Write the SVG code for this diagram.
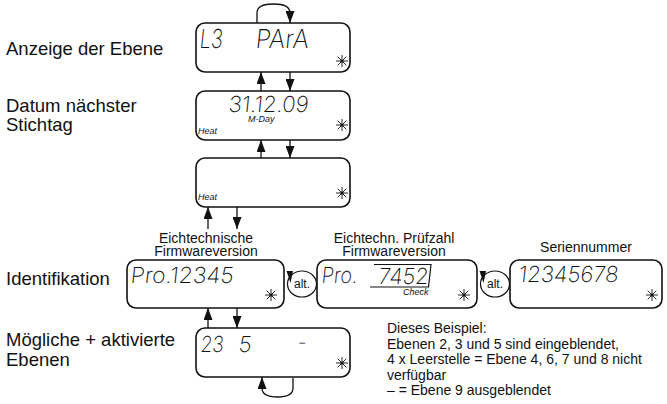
<svg xmlns="http://www.w3.org/2000/svg" width="667" height="404" viewBox="0 0 667 404">
<style>
.lbl{font-family:"Liberation Sans",Arial,sans-serif;font-size:18.5px;fill:#111}
.hdr{font-family:"Liberation Sans",Arial,sans-serif;font-size:14px;fill:#111;text-anchor:middle}
.note{font-family:"Liberation Sans",Arial,sans-serif;font-size:14px;fill:#111}
.box{fill:#fff;stroke:#111;stroke-width:1.6}
.seg{font-family:Inter,"DejaVu Sans",sans-serif;font-weight:200;fill:#111}
.sm{font-family:"Liberation Sans Narrow","Liberation Sans",sans-serif;font-style:italic;font-size:9px;fill:#111}
.conn{stroke:#111;stroke-width:1.3;fill:none}
.fr{stroke:#111;stroke-width:1.2;fill:none}
.alt{font-family:"Liberation Sans",Arial,sans-serif;font-size:12px;fill:#111}
</style>
<defs>
<marker id="ah" markerUnits="userSpaceOnUse" markerWidth="12" markerHeight="9" refX="12" refY="4.5" orient="auto">
<path d="M0,0 L12,4.5 L0,9 z" fill="#111"/>
</marker>
<g id="star">
<path d="M-6,0H6M0,-6V6M-4.3,-4.3L4.3,4.3M-4.3,4.3L4.3,-4.3" stroke="#111" stroke-width="0.9"/>
<circle r="1.6" fill="#111"/>
</g>
</defs>

<g id="labels">
<text class="lbl" x="6" y="55">Anzeige der Ebene</text>
<text class="lbl" x="6" y="112">Datum nächster</text>
<text class="lbl" x="6" y="131">Stichtag</text>
<text class="lbl" x="6" y="285">Identifikation</text>
<text class="lbl" x="6" y="346">Mögliche + aktivierte</text>
<text class="lbl" x="6" y="366">Ebenen</text>
</g>

<g id="connectors">
<path class="conn" d="M257,23 V13 Q257,4 273.5,4 Q290,4 290,13 V23" marker-end="url(#ah)"/>
<line class="conn" x1="261" y1="91" x2="261" y2="72" marker-end="url(#ah)"/>
<line class="conn" x1="290" y1="72" x2="290" y2="91" marker-end="url(#ah)"/>
<line class="conn" x1="261" y1="158" x2="261" y2="140" marker-end="url(#ah)"/>
<line class="conn" x1="290" y1="140" x2="290" y2="158" marker-end="url(#ah)"/>
<line class="conn" x1="208" y1="229" x2="208" y2="207" marker-end="url(#ah)"/>
<line class="conn" x1="237" y1="207" x2="237" y2="229" marker-end="url(#ah)"/>
<line class="conn" x1="208" y1="328" x2="208" y2="308" marker-end="url(#ah)"/>
<line class="conn" x1="237" y1="308" x2="237" y2="328" marker-end="url(#ah)"/>
<path class="conn" d="M293,378 V388 Q293,397 277.5,397 Q262,397 262,388 V377" marker-end="url(#ah)"/>
</g>

<g id="n-ebene">
<rect class="box" x="196" y="23" width="154" height="49" rx="9"/>
<g transform="translate(199,48) skewX(-6)"><text class="seg" font-size="26" textLength="23" lengthAdjust="spacingAndGlyphs">L3</text></g>
<g transform="translate(255,48) skewX(-6)"><text class="seg" font-size="26" textLength="53" lengthAdjust="spacingAndGlyphs">PArA</text></g>
<use href="#star" x="342" y="61"/>
</g>

<g id="n-stichtag">
<rect class="box" x="196" y="91" width="154" height="49" rx="9"/>
<g transform="translate(228,112) skewX(-6)"><text class="seg" font-size="22" textLength="80" lengthAdjust="spacingAndGlyphs">31.12.09</text></g>
<text class="sm" x="248" y="122">M-Day</text>
<text class="sm" x="198" y="134">Heat</text>
<use href="#star" x="342" y="125"/>
</g>

<g id="n-heat">
<rect class="box" x="196" y="158" width="154" height="49" rx="9"/>
<text class="sm" x="198" y="200">Heat</text>
<use href="#star" x="342" y="193"/>
</g>

<g id="n-firmware">
<text class="hdr" x="206" y="242.5">Eichtechnische</text>
<text class="hdr" x="206" y="256">Firmwareversion</text>
<rect class="box" x="127" y="260" width="157" height="48" rx="9"/>
<g transform="translate(130,283) skewX(-6)"><text class="seg" font-size="22" textLength="103" lengthAdjust="spacingAndGlyphs">Pro.12345</text></g>
<use href="#star" x="271" y="295"/>
</g>

<g id="alt1">
<ellipse class="fr" cx="302" cy="284" rx="14.5" ry="13"/>
<path d="M286.5,271 L293,271 L290.5,283 z" fill="#111"/>
<text class="alt" x="294" y="288">alt.</text>
</g>

<g id="n-pruefzahl">
<text class="hdr" x="394" y="242.5">Eichtechn. Prüfzahl</text>
<text class="hdr" x="394" y="256">Firmwareversion</text>
<rect class="box" x="317" y="260" width="160" height="48" rx="9"/>
<g transform="translate(321,283) skewX(-6)"><text class="seg" font-size="22" textLength="36" lengthAdjust="spacingAndGlyphs">Pro.</text></g>
<g transform="translate(378,284) skewX(-6)"><text class="seg" font-size="22" textLength="50" lengthAdjust="spacingAndGlyphs">7452</text></g>
<path class="fr" d="M374,264.5 H431 L428.5,287 H370"/>
<text class="sm" x="403" y="295">Check</text>
<use href="#star" x="464" y="295"/>
</g>

<g id="alt2">
<ellipse class="fr" cx="495" cy="284" rx="14.5" ry="13"/>
<path d="M479.5,271 L486,271 L483.5,283 z" fill="#111"/>
<text class="alt" x="487" y="288">alt.</text>
</g>

<g id="n-serie">
<text class="hdr" x="586" y="252">Seriennummer</text>
<rect class="box" x="510" y="260" width="152" height="48" rx="9"/>
<g transform="translate(518,282) skewX(-6)"><text class="seg" font-size="22" textLength="100" lengthAdjust="spacingAndGlyphs">12345678</text></g>
<use href="#star" x="652" y="295"/>
</g>

<g id="n-ebenen">
<rect class="box" x="196" y="328" width="154" height="49" rx="9"/>
<g transform="translate(200,352) skewX(-6)"><text class="seg" font-size="22" textLength="23" lengthAdjust="spacingAndGlyphs">23</text></g>
<g transform="translate(238,352) skewX(-6)"><text class="seg" font-size="22" textLength="13" lengthAdjust="spacingAndGlyphs">5</text></g>
<g transform="translate(297,350) skewX(-6)"><text class="seg" font-size="22" textLength="9" lengthAdjust="spacingAndGlyphs">-</text></g>
<use href="#star" x="342" y="363"/>
</g>

<g id="note">
<text class="note" x="387" y="333">Dieses Beispiel:</text>
<text class="note" x="387" y="348.5">Ebenen 2, 3 und 5 sind eingeblendet,</text>
<text class="note" x="387" y="364">4 x Leerstelle = Ebene 4, 6, 7 und 8 nicht</text>
<text class="note" x="387" y="379.5">verfügbar</text>
<text class="note" x="387" y="395">– = Ebene 9 ausgeblendet</text>
</g>
</svg>
